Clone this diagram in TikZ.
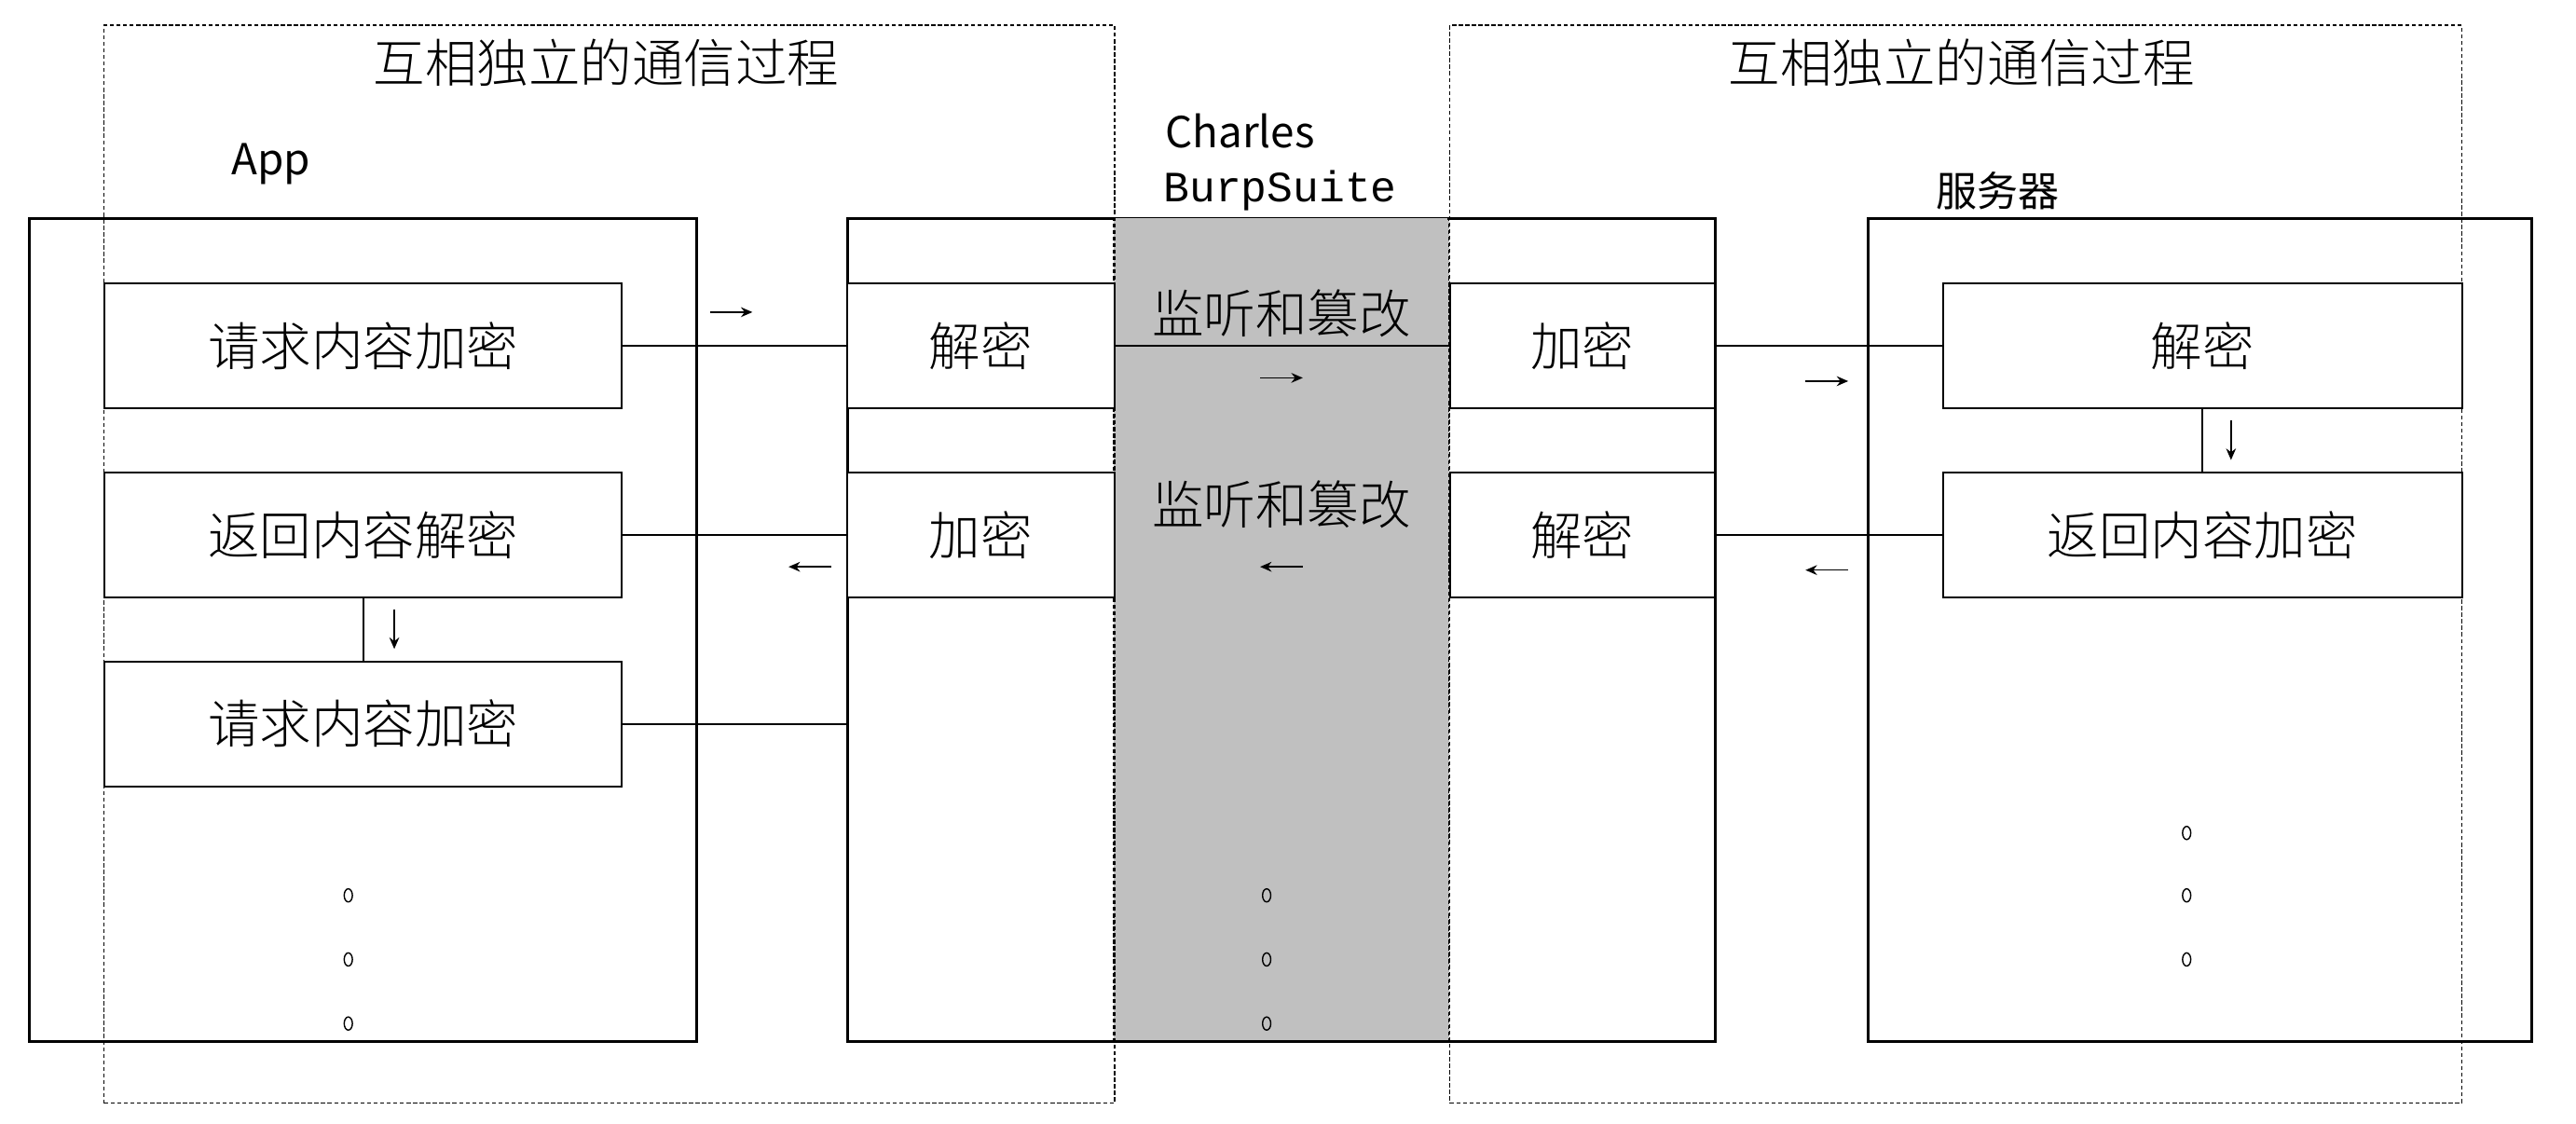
\documentclass[tikz,border=0pt]{standalone}
\usepackage{fontspec}
\usetikzlibrary{arrows.meta,shapes.geometric}
\newfontfamily\cjk{Noto Sans CJK SC}[UprightFont={* Light}]
\newfontfamily\cjkr{Noto Sans CJK SC}
\newfontfamily\monof{Liberation Mono}
\definecolor{midgray}{HTML}{C0C0C0}
\begin{document}
\begin{tikzpicture}[x=1pt,y=-1pt,
  outerbox/.style={draw,line width=2pt,anchor=north west,inner sep=0pt},
  cell/.style={draw,line width=1.1pt,fill=white,anchor=north west,inner sep=0pt,
    minimum height=76pt,font=\cjk\fontsize{31.5}{31.5}\selectfont},
  dotbox/.style={draw,line width=0.8pt,dash pattern=on 2.5pt off 1.5pt,anchor=north west,inner sep=0pt},
  conn/.style={line width=1.1pt},
  sarrow/.style={line width=0.9pt,-{Stealth[length=7pt,width=6pt]}},
  cjktext/.style={font=\cjk\fontsize{31.5}{31.5}\selectfont,inner sep=0pt},
  dotmark/.style={draw,ellipse,line width=0.8pt,minimum width=5pt,minimum height=8pt,inner sep=0pt}]
\useasboundingbox (0,0) rectangle (1568,684);
% gray band
\fill[midgray] (678,132) rectangle (882,633);
% dotted boxes
\node[dotbox,minimum width=615pt,minimum height=656pt] (g1) at (63,15) {};
\node[dotbox,minimum width=616pt,minimum height=656pt] (g2) at (882,15) {};
% outer boxes
\node[outerbox,minimum width=406pt,minimum height=501pt] (app) at (17,132) {};
\node[outerbox,minimum width=528pt,minimum height=501pt] (mitm) at (515,132) {};
\node[outerbox,minimum width=404pt,minimum height=501pt] (srv) at (1136,132) {};
\fill[midgray] (679,133) rectangle (881,632);
\draw[line width=0.8pt,dash pattern=on 2.5pt off 1.5pt] (678,132) -- (678,633) (882,132) -- (882,633);
% titles
\node[cjktext] (t1) at (369,38) {互相独立的通信过程};
\node[cjktext] (t2) at (1194,38) {互相独立的通信过程};
\node[font=\cjkr\fontsize{26}{26}\selectfont,inner sep=0pt] (lapp) at (165,100) {App};
\node[font=\cjkr\fontsize{26}{26}\selectfont,inner sep=0pt,anchor=west] (lch) at (709,80) {Charles};
\node[font=\monof\fontsize{26.3}{26}\selectfont,inner sep=0pt,anchor=west] (lbs) at (708,116) {BurpSuite};
\node[font=\cjkr\fontsize{25}{25}\selectfont,inner sep=0pt] (lsrv) at (1216,116) {服务器};
% app cells
\node[cell,minimum width=315pt] (a1) at (63,172) {请求内容加密};
\node[cell,minimum width=315pt] (a2) at (63,287) {返回内容解密};
\node[cell,minimum width=315pt] (a3) at (63,402) {请求内容加密};
% middle cells
\node[cell,minimum width=163pt] (m1) at (515,172) {解密};
\node[cell,minimum width=163pt] (m2) at (515,287) {加密};
\node[cell,minimum width=161pt] (n1) at (882,172) {加密};
\node[cell,minimum width=161pt] (n2) at (882,287) {解密};
% server cells
\node[cell,minimum width=316pt] (s1) at (1182,172) {解密};
\node[cell,minimum width=316pt] (s2) at (1182,287) {返回内容加密};
% connectors
\draw[conn] (a1.east) -- (m1.west);
\draw[conn] (m1.east) -- (n1.west);
\draw[conn] (n1.east) -- (s1.west);
\draw[conn] (a2.east) -- (m2.west);
\draw[conn] (n2.east) -- (s2.west);
\draw[conn] (a3.east) -- (a3.east -| mitm.west);
\draw[conn] (a2.south) -- (a3.north);
\draw[conn] (s1.south) -- (s2.north);
% gray labels
\node[cjktext] (w1) at (780,191) {监听和篡改};
\node[cjktext] (w2) at (780,307) {监听和篡改};
% small arrows
\coordinate (r1) at (445,190);
\coordinate (r2) at (780,230);
\coordinate (r3) at (1112,232);
\coordinate (l1) at (493,345);
\coordinate (l2) at (780,345);
\coordinate (l3) at (1112,347);
\coordinate (d1) at (240,383);
\coordinate (d2) at (1358,268);
\draw[sarrow] ([xshift=-13pt]r1) -- ([xshift=13pt]r1);
\draw[sarrow] ([xshift=-13pt]r2) -- ([xshift=13pt]r2);
\draw[sarrow] ([xshift=-13pt]r3) -- ([xshift=13pt]r3);
\draw[sarrow] ([xshift=13pt]l1) -- ([xshift=-13pt]l1);
\draw[sarrow] ([xshift=13pt]l2) -- ([xshift=-13pt]l2);
\draw[sarrow] ([xshift=13pt]l3) -- ([xshift=-13pt]l3);
\draw[sarrow] ([yshift=12pt]d1) -- ([yshift=-12pt]d1);
\draw[sarrow] ([yshift=12pt]d2) -- ([yshift=-12pt]d2);
% ellipsis marks
\node[dotmark] (e1) at (212,545) {};
\node[dotmark] (e2) at (212,584) {};
\node[dotmark] (e3) at (212,623) {};
\node[dotmark] (e4) at (771,545) {};
\node[dotmark] (e5) at (771,584) {};
\node[dotmark] (e6) at (771,623) {};
\node[dotmark] (e7) at (1331,507) {};
\node[dotmark] (e8) at (1331,545) {};
\node[dotmark] (e9) at (1331,584) {};
\end{tikzpicture}
\end{document}
